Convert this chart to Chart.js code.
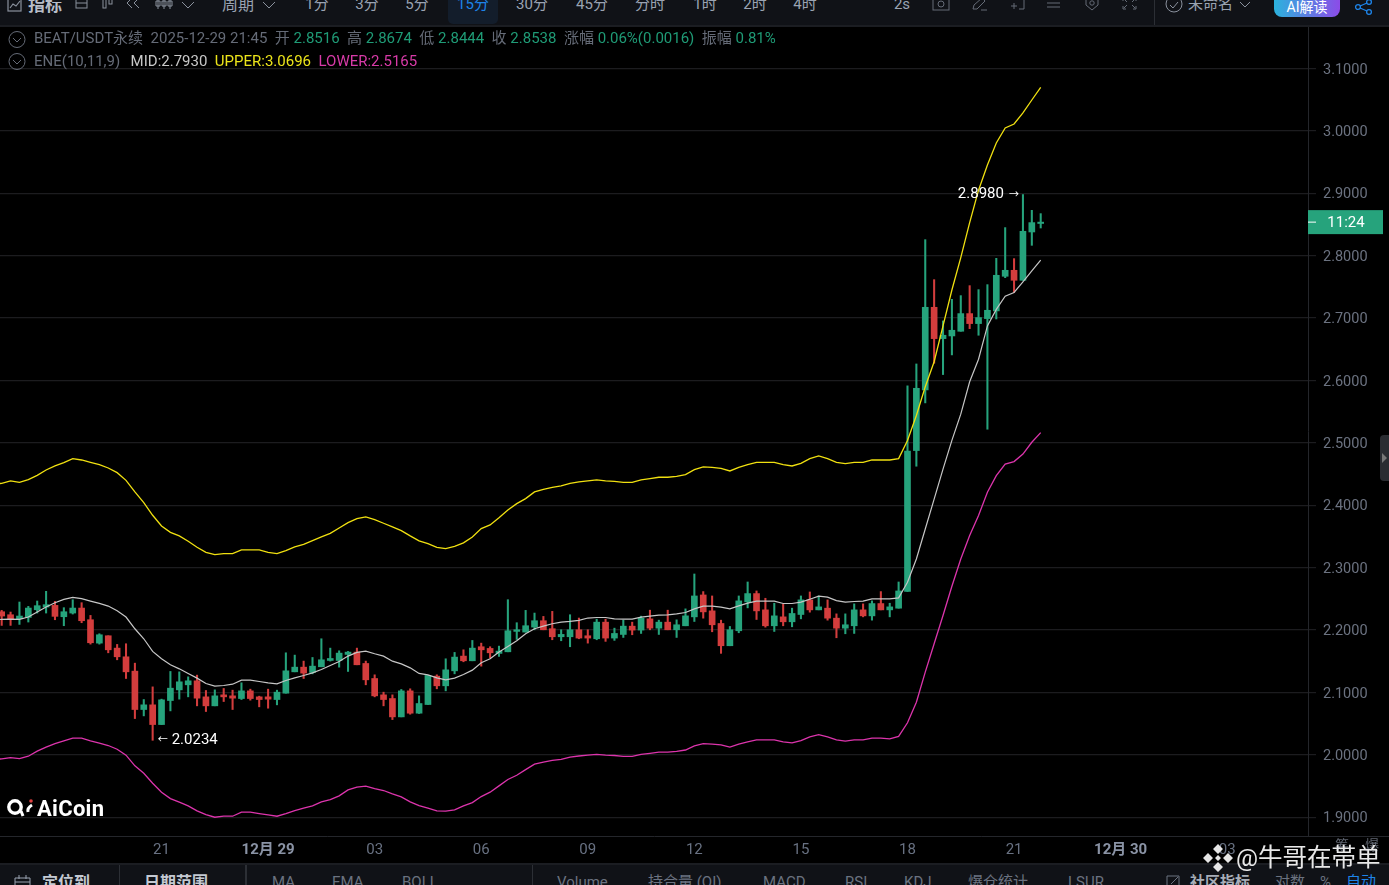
<!DOCTYPE html>
<html lang="zh"><head><meta charset="utf-8">
<script src="https://cdn.jsdelivr.net/npm/chart.js@4"></script>
<style>
html,body{margin:0;padding:0;background:#000;width:1389px;height:885px;overflow:hidden}
body{position:relative;font-family:Roboto,"Noto Sans CJK SC",sans-serif}
canvas{position:absolute;left:0;top:0}
.t{position:absolute;white-space:nowrap;line-height:1}
.bar{position:absolute;left:0;width:1389px;background:#101217;overflow:hidden}
.tb{font-size:15px;color:#9aa3b2;transform:translateX(-50%)}
.lg{font-size:15px;color:#656b77}
.g{color:#1f9b76}
svg{position:absolute;overflow:visible}
</style></head><body>
<canvas id="c" width="1389" height="885"></canvas>

<div class="bar" style="top:0;height:25px;border-bottom:2px solid #1b1d22">
  <div style="position:absolute;left:448px;top:0;width:50px;height:24px;background:#131d2b;border-radius:0 0 5px 5px"></div>
  <svg style="left:7px;top:-3px" width="16" height="16" fill="none" stroke="#8a919d" stroke-width="1.2"><rect x="1" y="1" width="13" height="13"/><path d="M3 11l3-4 3 2 4-5"/></svg>
  <span class="t" style="left:28px;top:-3px;font-size:17px;font-weight:700;color:#b8bec8">指标</span>
  <svg style="left:75px;top:-2px" width="14" height="12" fill="none" stroke="#8a919d"><rect x="1" y="1" width="11" height="9"/><path d="M1 5h11"/></svg>
  <svg style="left:102px;top:-2px" width="12" height="12" fill="none" stroke="#8a919d"><rect x="1" y="1" width="3" height="9"/><rect x="7" y="1" width="3" height="5"/></svg>
  <svg style="left:125px;top:-2px" width="18" height="12" fill="none" stroke="#8a919d"><path d="M7 0L2 5l5 5M14 0L9 5l5 5"/></svg>
  <svg style="left:155px;top:-2px" width="20" height="12" fill="none" stroke="#8a919d"><path d="M3 0v11M9 0v11M15 0v11M1 3h4v5H1zM7 3h4v5H7zM13 3h4v5h-4z"/></svg>
  <svg style="left:181px;top:1px" width="14" height="8" fill="none" stroke="#8a919d"><path d="M1 1l6 6 6-6"/></svg>
  <span class="t" style="left:222px;top:-3px;font-size:16px;color:#9aa3b2">周期</span>
  <svg style="left:262px;top:1px" width="14" height="8" fill="none" stroke="#8a919d"><path d="M1 1l6 6 6-6"/></svg>
  <span class="t tb" style="left:317px;top:-3px">1分</span>
  <span class="t tb" style="left:367px;top:-3px">3分</span>
  <span class="t tb" style="left:417px;top:-3px">5分</span>
  <span class="t tb" style="left:473px;top:-3px;color:#1e84e8">15分</span>
  <span class="t tb" style="left:532px;top:-3px">30分</span>
  <span class="t tb" style="left:592px;top:-3px">45分</span>
  <span class="t tb" style="left:650px;top:-3px">分时</span>
  <span class="t tb" style="left:705px;top:-3px">1时</span>
  <span class="t tb" style="left:755px;top:-3px">2时</span>
  <span class="t tb" style="left:805px;top:-3px">4时</span>
  <span class="t tb" style="left:902px;top:-3px">2s</span>
  <svg style="left:932px;top:-2px" width="18" height="14" fill="none" stroke="#656b77"><rect x="1" y="1" width="16" height="11"/><circle cx="9" cy="6" r="3"/></svg>
  <svg style="left:971px;top:-2px" width="18" height="14" fill="none" stroke="#656b77"><path d="M2 11l1-4 8-7 3 3-8 8zM10 12h6"/></svg>
  <svg style="left:1010px;top:-2px" width="16" height="14" fill="none" stroke="#656b77"><path d="M6 0h8v11H9M1 8h6M4 5v6"/></svg>
  <svg style="left:1047px;top:-2px" width="14" height="12" fill="none" stroke="#656b77"><path d="M0 1h13M0 5h13M0 9h13"/></svg>
  <svg style="left:1085px;top:-3px" width="16" height="16" fill="none" stroke="#656b77"><path d="M7 0l6 2v6l-6 5-6-5V2z"/><circle cx="7" cy="6" r="2.2"/></svg>
  <svg style="left:1123px;top:-2px" width="14" height="12" fill="none" stroke="#656b77"><path d="M0 3V0h3M10 0h3v3M0 8v3h3M13 8v3h-3M1 1l3 3M12 1L9 4M1 10l3-3M12 10L9 7"/></svg>
  <div style="position:absolute;left:1154px;top:0;width:1px;height:25px;background:#2c2f35"></div>
  <svg style="left:1165px;top:-2px" width="18" height="16" fill="none" stroke="#8a919d"><circle cx="9" cy="6" r="8"/><path d="M5 7l3 3 5-6"/></svg>
  <span class="t" style="left:1188px;top:-3px;font-size:15px;color:#9aa3b2">未命名</span>
  <svg style="left:1239px;top:1px" width="12" height="7" fill="none" stroke="#8a919d"><path d="M1 1l5 5 5-5"/></svg>
  <div class="t" style="left:1274px;top:-3px;width:66px;height:20px;border-radius:0 0 8px 8px;background:linear-gradient(90deg,#2bb3dd,#8c4be8);color:#fff;font-size:14px;text-align:center;line-height:20px">AI解读</div>
  <svg style="left:1355px;top:0" width="18" height="14" fill="none" stroke="#1e84e8" stroke-width="1.3"><circle cx="3" cy="7" r="2.4"/><circle cx="14" cy="2" r="2.4"/><circle cx="14" cy="12" r="2.4"/><path d="M5 6l7-3M5 8l7 3"/></svg>
</div>

<svg style="left:8px;top:31px" width="18" height="18" fill="none" stroke="#656b77"><circle cx="9" cy="8.5" r="8"/><path d="M5 7l4 4 4-4"/></svg>
<svg style="left:8px;top:53px" width="18" height="18" fill="none" stroke="#656b77"><circle cx="9" cy="8.5" r="8"/><path d="M5 7l4 4 4-4"/></svg>
<div class="t lg" style="left:34px;top:31px">BEAT/USDT永续&nbsp; 2025-12-29 21:45&nbsp; 开 <span class="g">2.8516</span>&nbsp; 高 <span class="g">2.8674</span>&nbsp; 低 <span class="g">2.8444</span>&nbsp; 收 <span class="g">2.8538</span>&nbsp; 涨幅 <span class="g">0.06%(0.0016)</span>&nbsp; 振幅 <span class="g">0.81%</span></div>
<div class="t lg" style="left:34px;top:54px">ENE(10,11,9)&nbsp;&nbsp;<span style="color:#c8c8c8;margin-left:3px">MID:2.7930</span>&nbsp;&nbsp;<span style="color:#ece41a">UPPER:3.0696</span>&nbsp;&nbsp;<span style="color:#d83aa8">LOWER:2.5165</span></div>

<svg style="left:6px;top:799px" width="28" height="20"><circle cx="9" cy="8" r="6.2" fill="none" stroke="#fff" stroke-width="3.4"/><path d="M15 12l2 5" stroke="#fff" stroke-width="3"/><path d="M26 6q-5 3-4 7" fill="none" stroke="#fff" stroke-width="3"/><circle cx="25" cy="2" r="1.8" fill="#e04040"/></svg>
<span class="t" style="left:37px;top:798px;font-size:22px;font-weight:700;color:#fff;letter-spacing:.3px">AiCoin</span>

<div style="position:absolute;left:1308px;top:836px;width:81px;height:1px;background:#24262b"></div>
<span class="t" style="left:1342px;top:838px;font-size:14px;color:#5f6570;transform:translateX(-50%)">筹</span>
<span class="t" style="left:1372px;top:838px;font-size:14px;color:#5f6570;transform:translateX(-50%)">爆</span>

<div style="position:absolute;left:1380px;top:435px;width:9px;height:46px;background:#2a2c31;border-radius:4px 0 0 4px"></div>
<svg style="left:1382px;top:453px" width="6" height="10"><path d="M0 0l5 5-5 5z" fill="#777"/></svg>

<div class="bar" style="top:863px;height:22px;border-top:2px solid #1b1d22">
  <svg style="left:14px;top:10px" width="18" height="14" fill="none" stroke="#9aa3b2"><path d="M1 3h15v11H1zM5 0v4M12 0v4M1 7h15"/></svg>
  <span class="t" style="left:42px;top:10px;font-size:16px;font-weight:700;color:#c4c9d2">定位到</span>
  <div style="position:absolute;left:119px;top:0;width:1px;height:22px;background:#2c2f35"></div>
  <span class="t" style="left:144px;top:10px;font-size:16px;font-weight:700;color:#c4c9d2">日期范围</span>
  <div style="position:absolute;left:245px;top:0;width:2px;height:22px;background:#2c2f35"></div>
  <span class="t" style="left:272px;top:10px;font-size:15px;color:#6b7280">MA</span>
  <span class="t" style="left:332px;top:10px;font-size:15px;color:#6b7280">EMA</span>
  <span class="t" style="left:402px;top:10px;font-size:15px;color:#6b7280">BOLL</span>
  <div style="position:absolute;left:532px;top:0;width:1px;height:22px;background:#2c2f35"></div>
  <span class="t" style="left:557px;top:10px;font-size:15px;color:#6b7280">Volume</span>
  <span class="t" style="left:648px;top:10px;font-size:15px;color:#6b7280">持合量 (OI)</span>
  <span class="t" style="left:763px;top:10px;font-size:15px;color:#6b7280">MACD</span>
  <span class="t" style="left:845px;top:10px;font-size:15px;color:#6b7280">RSI</span>
  <span class="t" style="left:904px;top:10px;font-size:15px;color:#6b7280">KDJ</span>
  <span class="t" style="left:968px;top:10px;font-size:15px;color:#6b7280">爆仓统计</span>
  <span class="t" style="left:1068px;top:10px;font-size:15px;color:#6b7280">LSUR</span>
  <svg style="left:1166px;top:10px" width="14" height="14" fill="none" stroke="#6b7280"><path d="M1 1h12v12H1zM5 9l7-7"/></svg>
  <span class="t" style="left:1190px;top:10px;font-size:15px;font-weight:700;color:#a8aeb8">社区指标</span>
  <span class="t" style="left:1275px;top:10px;font-size:15px;color:#6b7280">对数</span>
  <span class="t" style="left:1320px;top:10px;font-size:15px;color:#6b7280">%</span>
  <span class="t" style="left:1346px;top:10px;font-size:15px;color:#1e84e8">自动</span>
</div>

<svg style="left:1204px;top:844px" width="28" height="28" fill="#e6e6e6"><path d="M14 0l5 5-5 5-5-5zM14 18l5 5-5 5-5-5zM4 9l5 5-5 5-5-5zM24 9l5 5-5 5-5-5zM14 11l3 3-3 3-3-3z"/></svg>
<span class="t" style="left:1236px;top:846px;font-size:24.5px;color:#e8e8e8">@牛哥在帯单</span>

<script>
const highs=[2.2316,2.2289,2.245,2.238,2.2466,2.2621,2.246,2.2359,2.2487,2.2439,2.2235,2.1941,2.1909,2.177,2.1781,2.147,2.0887,2.109,2.0893,2.1337,2.1331,2.1251,2.1278,2.1032,2.1042,2.1064,2.1037,2.1155,2.1053,2.0941,2.1053,2.1037,2.1636,2.1599,2.1503,2.1561,2.1861,2.1711,2.1668,2.1658,2.1711,2.1503,2.1283,2.1005,2.0962,2.1048,2.1059,2.0946,2.1273,2.1283,2.154,2.1642,2.1684,2.1834,2.1791,2.1733,2.1743,2.2487,2.2118,2.2316,2.2273,2.2219,2.23,2.2005,2.2246,2.2193,2.2005,2.2175,2.2175,2.2031,2.2159,2.2127,2.2223,2.2319,2.2159,2.2319,2.2164,2.234,2.2899,2.2617,2.2547,2.2159,2.2058,2.2547,2.2771,2.2627,2.251,2.243,2.2414,2.2351,2.2547,2.2611,2.2547,2.2484,2.226,2.226,2.242,2.242,2.2468,2.2617,2.243,2.2771,2.5914,2.6265,2.8257,2.7616,2.6954,2.7301,2.736,2.752,2.7456,2.7536,2.7958,2.845,2.7953,2.898,2.8727,2.8674];
const lows=[2.2075,2.2075,2.2091,2.2129,2.2273,2.2273,2.2166,2.207,2.2257,2.2118,2.1775,2.1775,2.1636,2.1524,2.1224,2.0582,2.0625,2.0234,2.0486,2.0705,2.0893,2.093,2.0786,2.0695,2.0786,2.0855,2.0727,2.0887,2.0877,2.077,2.0748,2.0802,2.0989,2.1331,2.1224,2.1299,2.1412,2.1503,2.1406,2.1337,2.1444,2.1123,2.093,2.0786,2.0566,2.0609,2.0652,2.0663,2.0807,2.1059,2.1026,2.1299,2.1492,2.1508,2.1422,2.1551,2.1578,2.1652,2.185,2.1968,2.2005,2.2005,2.1845,2.1829,2.1733,2.1861,2.1791,2.1845,2.1819,2.1835,2.1882,2.1925,2.1946,2.2005,2.193,2.2005,2.1882,2.2069,2.2138,2.2191,2.1973,2.1627,2.1749,2.1957,2.2356,2.217,2.2047,2.1978,2.2069,2.2053,2.218,2.2287,2.2324,2.2159,2.1877,2.1941,2.1946,2.2212,2.2159,2.2324,2.2212,2.2351,2.2618,2.4626,2.5641,2.6276,2.6095,2.641,2.6789,2.6831,2.6725,2.5219,2.6986,2.7648,2.7408,2.7606,2.8166,2.8444];
const opens=[2.2294,2.2246,2.2182,2.2203,2.2326,2.2369,2.2396,2.2214,2.2273,2.2353,2.2166,2.1791,2.1909,2.1711,2.1572,2.1342,2.0727,2.0802,2.0486,2.0871,2.1042,2.1123,2.1187,2.093,2.0786,2.0962,2.0946,2.0903,2.1026,2.093,2.093,2.0887,2.0989,2.1331,2.1406,2.132,2.1412,2.1513,2.1513,2.161,2.1647,2.1465,2.1224,2.0962,2.0903,2.0609,2.1026,2.0668,2.0807,2.1262,2.1107,2.1347,2.1583,2.1508,2.1733,2.1706,2.1626,2.1652,2.1979,2.1968,2.2048,2.215,2.2022,2.1893,2.1893,2.2005,2.1909,2.1861,2.2127,2.1872,2.193,2.2063,2.2,2.218,2.2031,2.2127,2.2005,2.2069,2.2212,2.2563,2.2308,2.2106,2.1749,2.1989,2.2452,2.2585,2.2324,2.2069,2.2212,2.2133,2.225,2.2484,2.2324,2.2351,2.2191,2.2031,2.2069,2.2324,2.2228,2.2425,2.2324,2.2351,2.2618,2.4877,2.5849,2.7173,2.6671,2.6714,2.6789,2.7072,2.6912,2.6992,2.7115,2.767,2.7766,2.7606,2.838,2.8516];
const closes=[2.2225,2.2182,2.2225,2.2353,2.2391,2.2407,2.222,2.2294,2.2353,2.215,2.1797,2.1925,2.1684,2.1572,2.1331,2.0727,2.0802,2.0486,2.0882,2.1069,2.1171,2.1187,2.0909,2.0786,2.0946,2.093,2.0909,2.1026,2.0903,2.0887,2.0893,2.1005,2.1347,2.1406,2.131,2.1422,2.1524,2.1545,2.1631,2.1647,2.1444,2.1203,2.0946,2.0887,2.0609,2.1026,2.0668,2.0823,2.1273,2.1107,2.1363,2.1567,2.1508,2.1711,2.1684,2.1636,2.1663,2.1989,2.2005,2.207,2.215,2.2005,2.1893,2.1931,2.2005,2.1872,2.1872,2.2127,2.1872,2.1946,2.2063,2.2,2.2191,2.2031,2.2127,2.2005,2.2085,2.2228,2.2547,2.2292,2.2085,2.1749,2.2005,2.2468,2.2585,2.2308,2.2069,2.2228,2.2133,2.2266,2.2484,2.2324,2.2372,2.2191,2.2031,2.2085,2.2324,2.2228,2.2425,2.2324,2.2372,2.2627,2.487,2.5875,2.7173,2.6671,2.6725,2.6805,2.7072,2.6912,2.7008,2.7125,2.7686,2.7766,2.7606,2.8391,2.853,2.8538];

// ENE lines: the first entry sits one bar before the left edge of the view
const midLine=[2.2165,2.2171,2.2177,2.2171,2.2209,2.2289,2.2369,2.2439,2.2492,2.2524,2.2503,2.2465,2.2428,2.2385,2.231,2.2209,2.2021,2.1861,2.1658,2.154,2.1444,2.1379,2.1305,2.123,2.1144,2.1101,2.1112,2.1133,2.1198,2.1198,2.1176,2.1155,2.1139,2.1192,2.1235,2.1272,2.1315,2.1369,2.1433,2.1497,2.1583,2.1642,2.1663,2.162,2.1583,2.1502,2.1459,2.1395,2.1305,2.1283,2.1235,2.1203,2.123,2.1288,2.1358,2.1476,2.154,2.1647,2.1738,2.1829,2.1941,2.2021,2.2064,2.2102,2.2128,2.2139,2.2155,2.2193,2.2202,2.2202,2.2181,2.2176,2.2176,2.2207,2.2223,2.2239,2.2245,2.2261,2.2282,2.234,2.2383,2.2383,2.2367,2.234,2.2388,2.2431,2.2463,2.2463,2.2463,2.2426,2.2426,2.2447,2.2495,2.2543,2.2527,2.2473,2.2447,2.2458,2.2463,2.25,2.25,2.25,2.2516,2.2766,2.314,2.362,2.41,2.458,2.504,2.546,2.598,2.634,2.6875,2.714,2.735,2.741,2.758,2.7756,2.793];
const upperLine=[2.4335,2.4352,2.439,2.4368,2.441,2.448,2.4566,2.463,2.4683,2.4748,2.4726,2.4689,2.4651,2.4598,2.4523,2.44,2.4214,2.4043,2.384,2.3669,2.3567,2.3509,2.3423,2.3327,2.3247,2.321,2.3226,2.3226,2.3284,2.3284,2.3284,2.3247,2.3226,2.3274,2.3333,2.3375,2.3434,2.3493,2.3551,2.3637,2.3722,2.3786,2.3813,2.377,2.3712,2.3653,2.3594,2.3509,2.3429,2.3386,2.3327,2.3306,2.3343,2.3397,2.3493,2.3626,2.3685,2.3802,2.3925,2.4027,2.4107,2.4214,2.4256,2.4288,2.431,2.4352,2.4374,2.439,2.4406,2.439,2.4384,2.4368,2.4368,2.4406,2.4427,2.4449,2.4449,2.4465,2.4491,2.4571,2.4614,2.4608,2.4593,2.455,2.4608,2.4651,2.4689,2.4689,2.4689,2.4651,2.463,2.4673,2.4748,2.479,2.4748,2.4689,2.4667,2.4689,2.4689,2.4726,2.4726,2.4726,2.4748,2.5037,2.544,2.59,2.63,2.6875,2.745,2.797,2.853,2.905,2.9454,2.9806,3.0046,3.011,3.0287,3.0495,3.0696];
const lowerLine=[1.9925,1.9936,1.9957,1.9941,1.9979,2.0059,2.0123,2.0182,2.0224,2.0267,2.0267,2.0224,2.0187,2.015,2.0091,1.9995,1.9824,1.9706,1.9546,1.9402,1.93,1.9242,1.9183,1.9103,1.9044,1.9001,1.9017,1.9017,1.9082,1.9082,1.906,1.9039,1.9017,1.906,1.9108,1.9146,1.9183,1.9247,1.9284,1.9343,1.9439,1.9482,1.9498,1.9461,1.9429,1.9375,1.9327,1.9247,1.9188,1.9146,1.9103,1.9098,1.9119,1.9183,1.9236,1.9332,1.9402,1.9503,1.9605,1.9674,1.9763,1.9851,1.9885,1.9911,1.9929,1.9964,1.9982,1.9995,2.0008,1.9995,1.999,1.9977,1.9977,2.0008,2.0025,2.0043,2.0043,2.0056,2.0078,2.0143,2.0179,2.0174,2.0161,2.0126,2.0174,2.0209,2.024,2.024,2.024,2.0209,2.0192,2.0227,2.0289,2.0323,2.0289,2.024,2.0222,2.024,2.024,2.027,2.027,2.0258,2.0295,2.0514,2.0845,2.1326,2.178,2.2234,2.2703,2.314,2.3515,2.3835,2.421,2.4476,2.466,2.47,2.482,2.501,2.5165];

const priceTicks=[1.9,2.0,2.1,2.2,2.3,2.4,2.5,2.6,2.7,2.8,2.9,3.0,3.1];
const timeTickBars=[18,30,42,54,66,78,90,102,114,126,138];
const timeTickLabels=["21","12月 29","03","06","09","12","15","18","21","12月 30","03"];
const boldTimeLabels=["12月 29","12月 30"];
const lastPrice=2.8538, countdown="11:24";
const peakBar=115, peakPrice=2.898, troughBar=17, troughPrice=2.0234;

const UP="#26a37c", DOWN="#d33d3d";
const FONT='Roboto,"Noto Sans CJK SC",sans-serif';
const colors=opens.map((o,i)=>closes[i]>=o?UP:DOWN);
const isBoldTick=ctx=>{const t=ctx.tick;if(!t)return false;return boldTimeLabels.includes(timeTickLabels[timeTickBars.indexOf(t.value)]);};

const overlay={id:"overlay",afterDraw(ch){
  const c=ch.ctx,x=ch.scales.x,y=ch.scales.y;
  const px=x.getPixelForValue(peakBar),py0=y.getPixelForValue(peakPrice);
  const tx=x.getPixelForValue(troughBar),ty=y.getPixelForValue(troughPrice);
  c.save();
  c.fillStyle="#fff";c.textBaseline="middle";
  c.font="15px "+FONT;
  c.textAlign="right";c.fillText(peakPrice.toFixed(4),px-19,py0);
  c.textAlign="left";c.fillText(troughPrice.toFixed(4),tx+19,ty);
  c.font="10px "+FONT;
  c.textAlign="right";c.fillText("→",px-4,py0+0.5);
  c.textAlign="left";c.fillText("←",tx+5,ty+0.5);
  const py=y.getPixelForValue(lastPrice);
  c.fillStyle=UP;c.fillRect(1308,py-12,75,24);
  c.fillStyle="#fff";c.fillRect(1308,py-0.5,8,1);
  c.font="15px "+FONT;
  c.textAlign="center";c.fillText(countdown,1346,py+1);
  c.restore();
}};

new Chart(document.getElementById("c"),{
  type:"bar",
  data:{datasets:[
    {type:"line",label:"MID",data:midLine.map((v,i)=>({x:i-1,y:v})),borderColor:"#c6c6c6",borderWidth:1.2,pointRadius:0,tension:0,order:1},
    {type:"line",label:"UPPER",data:upperLine.map((v,i)=>({x:i-1,y:v})),borderColor:"#f0e010",borderWidth:1.3,pointRadius:0,tension:0,order:1},
    {type:"line",label:"LOWER",data:lowerLine.map((v,i)=>({x:i-1,y:v})),borderColor:"#dc34ac",borderWidth:1.3,pointRadius:0,tension:0,order:1},
    {label:"body",grouped:false,barThickness:6,data:opens.map((o,i)=>({x:i,y:[o,closes[i]]})),backgroundColor:colors,borderWidth:0,order:2},
    {label:"wick",grouped:false,barThickness:1.4,data:lows.map((l,i)=>({x:i,y:[l,highs[i]]})),backgroundColor:colors,borderWidth:0,order:3}
  ]},
  options:{
    responsive:false,animation:false,devicePixelRatio:1,
    layout:{padding:{top:27,left:0,right:0,bottom:0}},
    plugins:{legend:{display:false},tooltip:{enabled:false}},
    scales:{
      x:{type:"linear",min:-0.19,max:147.1,offset:false,
        grid:{display:false,drawTicks:false},
        border:{color:"#24262b"},
        afterBuildTicks(s){s.ticks=timeTickBars.map(v=>({value:v}));},
        afterFit(s){s.height=49;},
        ticks:{autoSkip:false,maxRotation:0,padding:5,
          callback(v){const k=timeTickBars.indexOf(v);return k<0?"":timeTickLabels[k];},
          color:ctx=>isBoldTick(ctx)?"#8a93a5":"#687182",
          font:ctx=>({family:FONT,size:15,weight:isBoldTick(ctx)?"700":"400"})
        }},
      y:{type:"linear",position:"right",min:1.87,max:3.1665,
        grid:{color:"#1c1c1f",lineWidth:1.2,tickLength:8,drawTicks:true,tickColor:"#1c1c1f"},
        border:{color:"#24262b"},
        afterBuildTicks(s){s.ticks=priceTicks.map(v=>({value:v}));},
        afterFit(s){s.width=81;},
        ticks:{padding:7,labelOffset:1.5,color:"#6b7280",font:{family:FONT,size:14.5},callback:v=>v.toFixed(4)}}
    }
  },
  plugins:[overlay]
});
</script>
</body></html>
